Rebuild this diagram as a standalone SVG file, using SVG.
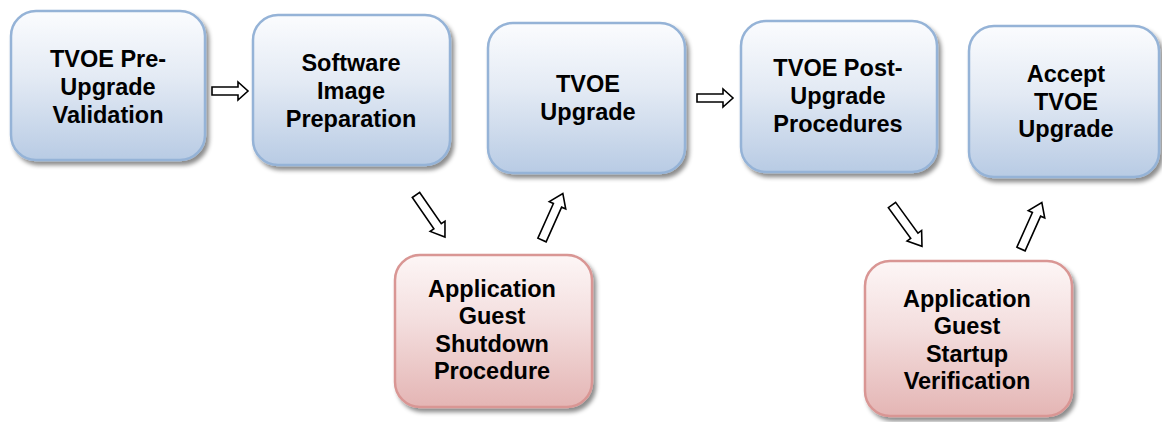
<svg xmlns="http://www.w3.org/2000/svg" width="1162" height="422" viewBox="0 0 1162 422">
<defs>
<linearGradient id="gb" x1="0" y1="0" x2="0" y2="1">
<stop offset="0" stop-color="#fbfcfe"/>
<stop offset="0.45" stop-color="#e3eaf4"/>
<stop offset="1" stop-color="#b8cbe4"/>
</linearGradient>
<linearGradient id="gr" x1="0" y1="0" x2="0" y2="1">
<stop offset="0" stop-color="#fdf6f6"/>
<stop offset="0.45" stop-color="#f3dddd"/>
<stop offset="1" stop-color="#e4b5b4"/>
</linearGradient>
<filter id="sh" x="-10%" y="-10%" width="125%" height="125%">
<feDropShadow dx="3" dy="4" stdDeviation="2" flood-color="#000" flood-opacity="0.45"/>
</filter>
<path id="ha" d="M0,-4 H26 V-9 L36,0 L26,9 V4 H0 Z"/>
<path id="da" d="M0,-4.5 H38 V-9 L51,0 L38,9 V4.5 H0 Z"/>
</defs>
<style>
.b{fill:url(#gb);stroke:#95b3d7;stroke-width:2.5;filter:url(#sh)}
.r{fill:url(#gr);stroke:#d99694;stroke-width:2.5;filter:url(#sh)}
.t{font-family:"Liberation Sans",Arial,sans-serif;font-weight:bold;font-size:23.5px;fill:#000;text-anchor:middle}
.a{fill:#fff;stroke:#000;stroke-width:1.6;stroke-linejoin:miter}
</style>
<g id="connectors">
<use href="#ha" class="a" transform="translate(212,91)"/>
<use href="#ha" class="a" transform="translate(697,98)"/>
<use href="#da" class="a" transform="translate(416,195) rotate(55.4)"/>
<use href="#da" class="a" transform="translate(542,240) rotate(-65.9)"/>
<use href="#da" class="a" transform="translate(892,205) rotate(54)"/>
<use href="#da" class="a" transform="translate(1021,249) rotate(-65.9)"/>
</g>
<g id="n1">
<rect class="b" x="11" y="11" width="194" height="149" rx="25"/>
<text class="t"><tspan x="108" y="67">TVOE Pre-</tspan><tspan x="108" y="95">Upgrade</tspan><tspan x="108" y="123">Validation</tspan></text>
</g>
<g id="n2">
<rect class="b" x="253" y="15" width="197" height="150" rx="25"/>
<text class="t"><tspan x="351" y="71">Software</tspan><tspan x="351" y="99">Image</tspan><tspan x="351" y="127">Preparation</tspan></text>
</g>
<g id="n3">
<rect class="b" x="488" y="23" width="197" height="150" rx="25"/>
<text class="t"><tspan x="588" y="92">TVOE</tspan><tspan x="588" y="120">Upgrade</tspan></text>
</g>
<g id="n4">
<rect class="b" x="741" y="21" width="196" height="151" rx="25"/>
<text class="t"><tspan x="838" y="76">TVOE Post-</tspan><tspan x="838" y="104">Upgrade</tspan><tspan x="838" y="132">Procedures</tspan></text>
</g>
<g id="n5">
<rect class="b" x="969" y="26" width="190" height="151" rx="25"/>
<text class="t"><tspan x="1066" y="82">Accept</tspan><tspan x="1066" y="110">TVOE</tspan><tspan x="1066" y="137">Upgrade</tspan></text>
</g>
<g id="n6">
<rect class="r" x="395" y="255" width="197" height="152" rx="25"/>
<text class="t"><tspan x="492" y="297">Application</tspan><tspan x="492" y="324">Guest</tspan><tspan x="492" y="352">Shutdown</tspan><tspan x="492" y="379">Procedure</tspan></text>
</g>
<g id="n7">
<rect class="r" x="865" y="261" width="207" height="155" rx="25"/>
<text class="t"><tspan x="967" y="307">Application</tspan><tspan x="967" y="334">Guest</tspan><tspan x="967" y="362">Startup</tspan><tspan x="967" y="389">Verification</tspan></text>
</g>
</svg>
